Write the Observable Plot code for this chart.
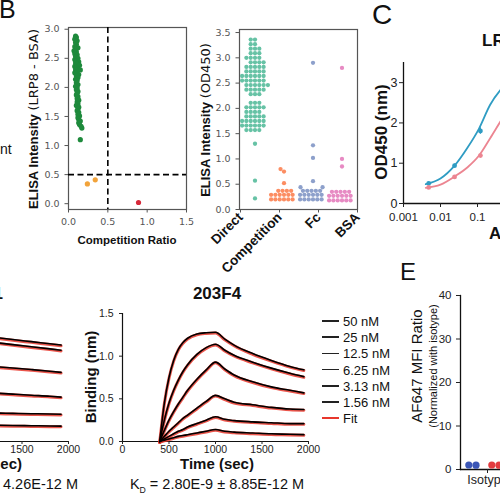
<!DOCTYPE html>
<html><head><meta charset="utf-8">
<script src="https://cdn.jsdelivr.net/npm/d3@7"></script>
<script src="https://cdn.jsdelivr.net/npm/@observablehq/plot@0.6"></script>
<style>
html,body{margin:0;padding:0;background:#fff;}
#root{position:relative;width:500px;height:500px;overflow:hidden;background:#fff;font-family:"Liberation Sans",Arial,sans-serif;color:#111;}
.pl{position:absolute;}
.pl svg{max-width:none !important;overflow:visible;}
.lb{position:absolute;white-space:nowrap;line-height:1;}
</style></head><body><div id="root"></div>
<script>
// ---------- Panel B (left): competition scatter ----------
const compRatio = [0.09,0.10,0.08,0.11,0.09,0.10,0.08,0.12,0.09,0.07,0.10,0.08,0.11,0.09,0.12,0.08,0.10,0.13,0.09,0.11,0.14,0.08,0.10,0.12,0.09,0.15,0.11,0.08,0.13,0.10,0.12,0.09,0.11,0.10,0.12,0.09,0.11,0.10,0.12,0.11,0.10,0.12,0.11,0.13,0.11,0.12,0.10,0.13,0.12,0.11,0.13,0.12,0.14,0.12,0.13,0.15,0.13,0.14,0.16,0.17,0.15];
const lrpBsa    = [2.88,2.86,2.83,2.80,2.77,2.74,2.70,2.68,2.66,2.63,2.61,2.58,2.56,2.53,2.50,2.48,2.46,2.44,2.42,2.40,2.38,2.36,2.34,2.32,2.30,2.30,2.27,2.25,2.22,2.20,2.17,2.14,2.12,2.08,2.05,2.02,1.99,1.96,1.93,1.90,1.87,1.84,1.81,1.78,1.75,1.72,1.69,1.66,1.63,1.60,1.57,1.54,1.51,1.48,1.45,1.42,1.39,1.36,1.33,1.30,1.10];
const otherRatio = [0.24, 0.34, 0.89];
const otherLrp   = [0.34, 0.41, 0.02];
const otherClass = ["Weak", "Weak", "Non-binder"];
const ticksB1x = [0, 0.5, 1.0, 1.5];
const ticksB1y = [0, 0.5, 1.0, 1.5, 2.0, 2.5, 3.0];

// ---------- Panel B (right): ELISA swarm ----------
const swarmCats = ["Direct", "Competition", "Fc", "BSA"];
const directOD = [3.36,3.36,3.27,3.27,3.18,3.18,3.18,3.09,3.09,3.09,3.00,3.00,3.00,3.00,2.91,2.91,2.91,2.91,2.82,2.82,2.82,2.82,2.82,
  2.73,2.73,2.73,2.73,2.73,2.64,2.64,2.64,2.64,2.64,2.64,2.55,2.55,2.55,2.55,2.55,2.55,2.46,2.46,2.46,2.46,2.46,2.46,
  2.37,2.37,2.37,2.37,2.37,2.28,2.28,2.28,
  2.11,2.11,2.11,2.02,2.02,2.02,2.02,2.02,1.93,1.93,1.93,1.93,1.84,1.84,1.84,1.84,1.84,1.75,1.75,1.75,1.75,1.75,1.75,
  1.66,1.66,1.66,1.66,1.66,1.66,1.57,1.57,1.57,1.57,1.30,0.57,0.22];
const competitionOD = [0.20,0.20,0.20,0.20,0.20,0.20,0.29,0.29,0.29,0.29,0.29,0.29,0.37,0.37,0.37,0.37,0.52,0.75,0.80];
const fcOD = [0.20,0.20,0.20,0.20,0.20,0.20,0.29,0.29,0.29,0.29,0.29,0.29,0.37,0.37,0.37,0.37,0.37,0.44,0.44,0.56,1.02,1.27,2.90];
const bsaOD = [0.18,0.18,0.18,0.18,0.18,0.18,0.27,0.27,0.27,0.27,0.27,0.27,0.35,0.35,0.35,0.35,0.35,0.85,1.00,2.80];
const ticksB2y = [0, 0.5, 1.0, 1.5, 2.0, 2.5, 3.0, 3.5];
const set2 = ["#66c2a5", "#fc8d62", "#8da0cb", "#e78ac3"];

// ---------- Panel C: ELISA titration ----------
const cSeries = ["mAb (teal)", "mAb (pink)"];
const cConc  = [0.0048, 0.024, 0.12];
const cTeal  = [0.50, 0.94, 1.80];
const cTealErr = [0.03, 0.04, 0.08];
const cPink  = [0.40, 0.66, 1.19];
const cPinkErr = [0.02, 0.03, 0.03];
const fitConc = [0.004, 0.01, 0.024, 0.054, 0.11, 0.22, 0.42, 1, 3, 10, 100];
const fitTeal = [0.48, 0.62, 0.94, 1.39, 1.86, 2.45, 2.82, 3.12, 3.27, 3.30, 3.30];
const fitPink = [0.39, 0.47, 0.67, 0.90, 1.19, 1.62, 2.04, 2.58, 2.94, 3.05, 3.10];
const ticksCx = [0.001, 0.01, 0.1, 1, 10, 100];
const ticksCy = [0, 1, 2, 3];

// ---------- Panel D: BLI sensorgrams ----------
const concLabels = ["50 nM", "25 nM", "12.5 nM", "6.25 nM", "3.13 nM", "1.56 nM"];
const times203 = [400,450,500,550,600,650,700,800,900,1000,1100,1200,1400,1600,1800,1950];
const bli50  = [0,0.45,0.75,0.95,1.08,1.16,1.21,1.26,1.275,1.28,1.20,1.13,1.03,0.95,0.88,0.84];
const bli25  = [0,0.25,0.45,0.60,0.72,0.82,0.90,1.02,1.10,1.14,1.07,1.01,0.93,0.86,0.80,0.76];
const bli12  = [0,0.13,0.25,0.35,0.44,0.52,0.60,0.73,0.84,0.93,0.85,0.78,0.70,0.64,0.60,0.57];
const bli6   = [0,0.06,0.12,0.17,0.22,0.27,0.31,0.39,0.47,0.54,0.50,0.46,0.43,0.40,0.38,0.375];
const bli3   = [0,0.03,0.06,0.09,0.12,0.14,0.17,0.21,0.25,0.29,0.26,0.245,0.23,0.22,0.21,0.21];
const bli1   = [0,0.015,0.03,0.045,0.06,0.07,0.08,0.10,0.12,0.14,0.12,0.11,0.10,0.09,0.085,0.08];
const timesLeft = [1250, 1400, 1600, 1800, 1920];
const left50 = [1.215,1.195,1.17,1.145,1.13];
const left25 = [1.155,1.135,1.11,1.085,1.07];
const left12 = [0.875,0.862,0.843,0.823,0.81];
const left6  = [0.565,0.555,0.542,0.53,0.52];
const left3  = [0.333,0.33,0.326,0.322,0.32];
const left1  = [0.19,0.188,0.185,0.182,0.18];
const ticksDx = [0, 500, 1000, 1500, 2000];
const ticksDy = [0, 0.5, 1.0, 1.5];

// ---------- Panel E: flow MFI ----------
const eCategory = ["Isotype"];
const eGroup = ["Isotype A", "Isotype A", "Isotype B", "Isotype B"];
const eRatio = [1.0, 1.04, 1.0, 1.03];
const ticksEy = [0, 10, 20, 30, 40];

// ---------- helpers ----------
const root = document.getElementById("root");
function place(svg, x, y, w) {
  const d = document.createElement("div");
  d.className = "pl"; d.style.left = x + "px"; d.style.top = y + "px"; d.style.width = w + "px";
  d.appendChild(svg); root.appendChild(d);
}
function label(html, x, y, o = {}) {
  const d = document.createElement("div");
  d.className = "lb"; d.innerHTML = html;
  d.style.left = x + "px"; d.style.top = y + "px";
  d.style.fontSize = (o.size || 12) + "px";
  if (o.bold) d.style.fontWeight = "bold";
  if (o.family) d.style.fontFamily = o.family;
  if (o.color) d.style.color = o.color;
  const ax = o.anchor === "end" ? "-100%" : o.anchor === "middle" ? "-50%" : "0";
  d.style.transform = o.rotate ? "translate(-50%,-50%) rotate(-90deg)" : `translate(${ax},-50%)`;
  root.appendChild(d);
}
const f1 = d3.format(".1f");
const fInt = d3.format("d");
const fPlain = d => String(d);

// ---------- B left ----------
const greenPts = compRatio.map((r, i) => ({r, v: lrpBsa[i]}));
const otherPts = otherRatio.map((r, i) => ({r, v: otherLrp[i], c: otherClass[i]}));
place(Plot.plot({
  width: 200, height: 260, marginLeft: 68, marginRight: 14, marginTop: 27, marginBottom: 51,
  style: {background: "transparent", fontFamily: "DejaVu Sans", fontSize: "9.5px", color: "#555"},
  x: {domain: [0, 1.5]}, y: {domain: [-0.1, 3.03]},
  color: {domain: ["Weak", "Non-binder"], range: ["#f2a33a", "#d62839"]},
  marks: [
    Plot.frame({stroke: "#555", strokeWidth: 1.2}),
    Plot.axisX({ticks: ticksB1x, tickFormat: f1, tickSize: 3.5, label: null}),
    Plot.axisY({ticks: ticksB1y, tickFormat: f1, tickSize: 3.5, label: null}),
    Plot.ruleX([0.5], {stroke: "#000", strokeWidth: 1.6, strokeDasharray: "6,3.5"}),
    Plot.ruleY([0.5], {stroke: "#000", strokeWidth: 1.6, strokeDasharray: "6,3.5"}),
    Plot.dot(greenPts, {x: "r", y: "v", r: 2.6, fill: "#1e8a3c"}),
    Plot.dot(otherPts, {x: "r", y: "v", r: 2.6, fill: "c"})
  ]
}), 0, 0, 200);

// ---------- B right ----------
const swarm = [];
[directOD, competitionOD, fcOD, bsaOD].forEach((arr, k) => arr.forEach(v => swarm.push({cat: swarmCats[k], v})));
const swarmOpts = {width: 170, height: 260, marginLeft: 39, marginRight: 13, marginTop: 29, marginBottom: 51};
place(Plot.plot({
  ...swarmOpts,
  style: {background: "transparent", fontFamily: "DejaVu Sans", fontSize: "9.5px", color: "#555"},
  x: {domain: swarmCats, padding: 0}, y: {domain: [0, 3.56]},
  marks: [
    Plot.frame({stroke: "#555", strokeWidth: 1.2}),
    Plot.axisY({ticks: ticksB2y, tickFormat: f1, tickSize: 3.5, label: null}),
    Plot.axisX({tickRotate: -45, tickSize: 3.5, tickPadding: 2, label: null, fill: "#111", fontWeight: "bold", fontSize: 13.5, fontFamily: "Liberation Sans"})
  ]
}), 200, 0, 170);
place(Plot.plot({
  ...swarmOpts,
  style: {background: "transparent"},
  fx: {domain: swarmCats, padding: 0, axis: null},
  y: {domain: [0, 3.56], axis: null},
  color: {domain: swarmCats, range: set2},
  marks: [
    Plot.dot(swarm, Plot.dodgeX({anchor: "middle", padding: 0}, {fx: "cat", y: "v", r: 2.15, fill: "cat"}))
  ]
}), 200, 0, 170);

// ---------- C ----------
const cFit = [];
fitConc.forEach((c, i) => { cFit.push({s: cSeries[0], c, v: fitTeal[i]}); cFit.push({s: cSeries[1], c, v: fitPink[i]}); });
const cPts = [];
cConc.forEach((c, i) => {
  cPts.push({s: cSeries[0], c, v: cTeal[i], e: cTealErr[i]});
  cPts.push({s: cSeries[1], c, v: cPink[i], e: cPinkErr[i]});
});
place(Plot.plot({
  width: 258, height: 230, marginLeft: 63, marginRight: 10, marginTop: 32, marginBottom: 57,
  style: {background: "transparent", fontFamily: "Liberation Sans", fontSize: "11.5px", color: "#222"},
  x: {type: "log", domain: [0.001, 100]}, y: {domain: [0, 3.5]},
  color: {domain: cSeries, range: ["#2f9cc3", "#ec8591"]},
  marks: [
    Plot.ruleX([0.001], {stroke: "#111", strokeWidth: 1.3}),
    Plot.ruleY([0], {stroke: "#111", strokeWidth: 1.3}),
    Plot.axisX({ticks: ticksCx, tickFormat: fPlain, tickSize: 4, label: null}),
    Plot.axisY({ticks: ticksCy, tickFormat: fPlain, tickSize: 4, tickPadding: 2, fontSize: 12.5, label: null}),
    Plot.line(cFit, {x: "c", y: "v", z: "s", stroke: "s", strokeWidth: 1.8, curve: "monotone-x"}),
    Plot.ruleX(cPts, {x: "c", y1: d => d.v - d.e, y2: d => d.v + d.e, stroke: "s", strokeWidth: 1.2}),
    Plot.dot(cPts, {x: "c", y: "v", fill: "s", r: 2.4})
  ]
}), 340, 30, 258);

// ---------- D (BLI) ----------
function bliTable(times, arrays) {
  const t = [];
  arrays.forEach((arr, k) => times.forEach((tt, i) => t.push({c: concLabels[k], t: tt, v: arr[i]})));
  return t;
}
function bliPlot(data) {
  return Plot.plot({
    width: 250, height: 180, marginLeft: 52, marginRight: 12, marginTop: 13, marginBottom: 39,
    style: {background: "transparent", fontFamily: "Liberation Sans", fontSize: "10.5px", color: "#222"},
    x: {domain: [0, 2000]}, y: {domain: [0, 1.5]},
    marks: [
      Plot.ruleX([0], {stroke: "#111", strokeWidth: 1.2}),
      Plot.ruleY([0], {stroke: "#111", strokeWidth: 1.2}),
      Plot.axisX({ticks: ticksDx, tickFormat: fInt, tickSize: 3, tickPadding: 1, label: null}),
      Plot.axisY({ticks: ticksDy, tickFormat: f1, tickSize: 3, label: null}),
      Plot.line(data, {x: "t", y: "v", z: "c", stroke: "#e8372c", strokeWidth: 3, strokeOpacity: 0.85, dy: 0.7, curve: "monotone-x"}),
      Plot.line(data, {x: "t", y: "v", z: "c", stroke: "#000", strokeWidth: 1.6, curve: "monotone-x"})
    ]
  });
}
place(bliPlot(bliTable(timesLeft, [left50, left25, left12, left6, left3, left1])), -170, 300, 250);
place(bliPlot(bliTable(times203, [bli50, bli25, bli12, bli6, bli3, bli1])), 70, 300, 250);

// legend
const legendItems = [...concLabels, "Fit"];
legendItems.forEach((txt, i) => {
  const y = 321 + i * 16.2;
  const dash = document.createElement("div");
  dash.style.cssText = `position:absolute;left:322px;top:${y - 0.8}px;width:17px;height:1.6px;background:${txt === "Fit" ? "#e8372c" : "#222"}`;
  root.appendChild(dash);
  label(txt, 343, y, {size: 13});
});

// ---------- E ----------
const eTable = eGroup.map((g, i) => ({g, v: eRatio[i]}));
const eOpts = {width: 114, height: 210, marginLeft: 60, marginRight: 0, marginTop: 15, marginBottom: 21};
place(Plot.plot({
  ...eOpts,
  style: {background: "transparent", fontFamily: "Liberation Sans", fontSize: "11.5px", color: "#222"},
  x: {domain: eCategory, padding: 0}, y: {domain: [0, 40]},
  marks: [
    Plot.frame({anchor: "left", stroke: "#111", strokeWidth: 1.3}),
    Plot.frame({anchor: "bottom", stroke: "#111", strokeWidth: 1.3}),
    Plot.axisY({ticks: ticksEy, tickSize: 4, label: null}),
    Plot.axisX({tickSize: 4, tickPadding: 2, fontSize: 12.5, label: null})
  ]
}), 400, 280, 114);
place(Plot.plot({
  ...eOpts,
  style: {background: "transparent"},
  fx: {domain: ["Isotype A", "Isotype B"], paddingInner: 0, paddingOuter: 0.15, axis: null},
  y: {domain: [0, 40], axis: null},
  color: {domain: ["Isotype A", "Isotype B"], range: ["#3b56b6", "#e23b3f"]},
  marks: [
    Plot.dot(eTable, Plot.dodgeX({anchor: "middle", padding: 0}, {fx: "g", y: "v", r: 3.6, fill: "g"}))
  ]
}), 400, 280, 114);

// ---------- text ----------
label("B", -1, 9, {size: 25});
label("nt", 0, 149, {size: 14});
label('<b>ELISA Intensity</b> <span style="font-family:DejaVu Sans">(LRP8 - BSA)</span>', 33, 119, {size: 13, rotate: true});
label("Competition Ratio", 127, 241, {size: 11.5, bold: true, anchor: "middle"});
label('<b>ELISA Intensity</b> <span style="font-family:DejaVu Sans">(OD450)</span>', 205, 120, {size: 13, rotate: true});

label("C", 372, 15, {size: 28});
label("LRP8", 482, 40, {size: 17, bold: true});
label("OD450 (nm)", 381, 132, {size: 17, bold: true, rotate: true});
label("Antibody (μg/mL)", 489, 233, {size: 17, bold: true});

label("201F1", 3, 293, {size: 17, bold: true, anchor: "end"});
label("Time (sec)", 22, 463, {size: 15, bold: true, anchor: "end"});
label("K<sub style='font-size:0.6em;line-height:0'>D</sub> = 1.02E-9 ± 4.26E-12 M", 78, 484, {size: 14.5, anchor: "end"});
label("203F4", 217, 293, {size: 17, bold: true, anchor: "middle"});
label("Binding (nm)", 90, 377, {size: 15, bold: true, rotate: true});
label("Time (sec)", 217, 463, {size: 15, bold: true, anchor: "middle"});
label("K<sub style='font-size:0.6em;line-height:0'>D</sub> = 2.80E-9 ± 8.85E-12 M", 217, 484, {size: 14.5, anchor: "middle"});

label("E", 400, 272, {size: 24});
label("AF647 MFI Ratio", 416, 366, {size: 15, rotate: true});
label("(Normalized with isotype)", 433, 366, {size: 11, rotate: true});
</script></body></html>
